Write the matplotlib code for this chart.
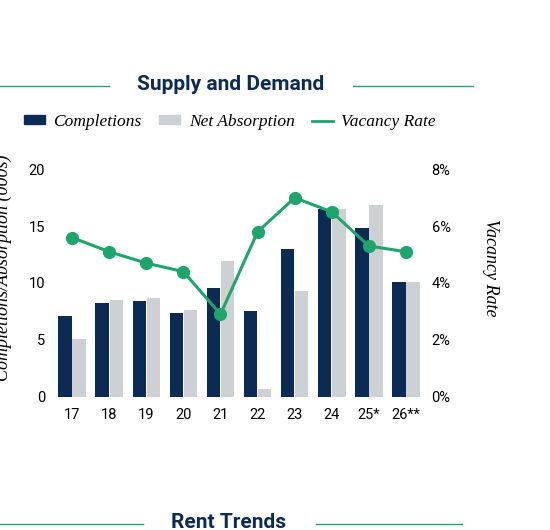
import matplotlib
matplotlib.use("Agg")
import numpy as np
from matplotlib import pyplot as plt
from matplotlib.lines import Line2D
from matplotlib.patches import Patch

# data
years = ["17", "18", "19", "20", "21", "22", "23", "24", "25*", "26**"]
completions = [7.1, 8.2, 8.4, 7.4, 9.6, 7.5, 13.0, 16.5, 14.8, 10.1]
absorption = [5.1, 8.5, 8.7, 7.6, 11.9, 0.7, 9.3, 16.5, 16.9, 10.1]
vacancy = [5.6, 5.1, 4.7, 4.4, 2.9, 5.8, 7.0, 6.5, 5.3, 5.1]

NAVY = "#0b2a54"
GREY = "#cdd1d4"
GREEN = "#1ea56b"
SANS = "Roboto"
SERIF = "Liberation Serif"

fig = plt.figure(figsize=(5.5, 5.3), dpi=100)
W, H = 550, 530


def fx(px):
    return px / W


def fy(py):
    return 1 - py / H


ax = fig.add_axes([fx(53.5), fy(396.7), fx(424.6) - fx(53.5), (396.7 - 169.3) / H])
x = np.arange(len(years))
bw = 0.36
ax.bar(x - 0.19, completions, bw, color=NAVY, zorder=2)
ax.bar(x + 0.19, absorption, bw, color=GREY, zorder=2)
ax.set_xlim(-0.5, 9.5)
ax.set_ylim(0, 20)
ax.set_yticks([0, 5, 10, 15, 20])
ax.set_xticks(x)
ax.set_xticklabels(years)
for s in ax.spines.values():
    s.set_visible(False)
ax.tick_params(length=0, labelsize=10.5, pad=8)
ax.tick_params(axis="y", pad=6)
for lbl in ax.get_xticklabels() + ax.get_yticklabels():
    lbl.set_fontfamily(SANS)

ax2 = ax.twinx()
ax2.plot(x, vacancy, color=GREEN, lw=2.2, marker="o", ms=8.5, zorder=3)
ax2.set_ylim(0, 8)
ax2.set_yticks([0, 2, 4, 6, 8])
ax2.set_yticklabels([f"{v}%" for v in [0, 2, 4, 6, 8]])
for s in ax2.spines.values():
    s.set_visible(False)
ax2.tick_params(length=0, labelsize=10.5, pad=5)
for lbl in ax2.get_yticklabels():
    lbl.set_fontfamily(SANS)

# axis titles (left one is cut by the edge, as in the source)
fig.text(fx(3), fy(268), "Completions/Absorption (000s)", rotation=90,
         ha="center", va="center", fontsize=13, style="italic", family=SERIF)
fig.text(fx(491), fy(268), "Vacancy Rate", rotation=-90,
         ha="center", va="center", fontsize=13, style="italic", family=SERIF)

# section title
fig.text(fx(231), fy(85), "Supply and Demand", ha="center", va="center",
         fontsize=15, fontweight="bold", color=NAVY, family=SANS)
fig.add_artist(Line2D([0, fx(109)], [fy(86), fy(86)], color=GREEN, lw=1))
fig.add_artist(Line2D([fx(353), fx(473)], [fy(86), fy(86)], color=GREEN, lw=1))

# legend
handles = [
    Patch(color=NAVY, label="Completions"),
    Patch(color=GREY, label="Net Absorption"),
    Line2D([0], [0], color=GREEN, lw=2, label="Vacancy Rate"),
]
fig.legend(handles=handles, loc="center", bbox_to_anchor=(fx(230), fy(122)),
           ncol=3, frameon=False, handlelength=1.2, handleheight=0.4,
           handletextpad=0.5, columnspacing=1.0, borderpad=0,
           prop={"family": SERIF, "style": "italic", "size": 12.5})

# next section title (cut off at the bottom)
fig.text(fx(229), fy(523), "Rent Trends", ha="center", va="center",
         fontsize=15, fontweight="bold", color=NAVY, family=SANS)
fig.add_artist(Line2D([0, fx(143)], [fy(524), fy(524)], color=GREEN, lw=1))
fig.add_artist(Line2D([fx(316), fx(462)], [fy(524), fy(524)], color=GREEN, lw=1))

fig.savefig("out.png", dpi=100)
